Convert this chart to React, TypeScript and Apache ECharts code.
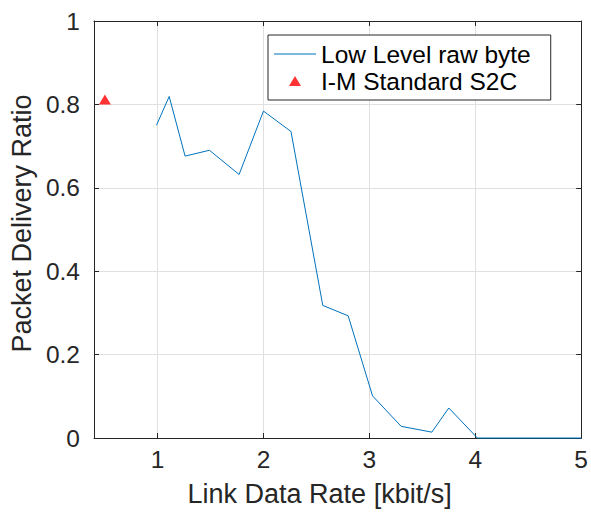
import React, { useEffect, useRef } from "react";
import * as echarts from "echarts";

const rateKbit = [0.99, 1.11, 1.26, 1.49, 1.77, 2.0, 2.26, 2.56, 2.8, 3.03, 3.3, 3.59, 3.75, 4.02, 4.5, 5.0];
const deliveryRatio = [0.75, 0.819, 0.676, 0.69, 0.632, 0.784, 0.735, 0.318, 0.293, 0.101, 0.028, 0.014, 0.072, 0.0, 0.0, 0.0];
const standardRate = [0.503];
const standardRatio = [0.812];
const xTicks = [1, 2, 3, 4, 5];
const seriesNames = ["Low Level raw byte", "I-M Standard S2C"];

const FONT = "Liberation Sans, Arial, Helvetica, sans-serif";
const AX = "#262626";
const GRID = "#e0e0e0";

export default function App() {
  const ref = useRef<HTMLDivElement>(null);
  useEffect(() => {
    if (!ref.current) return;
    const chart = echarts.init(ref.current, undefined, { renderer: "svg" });
    const lineData = rateKbit.map((x, i) => [x, deliveryRatio[i]]);
    const scatterData = standardRate.map((x, i) => [x, standardRatio[i]]);
    const baseX = {
      type: "value" as const,
      min: 0.4,
      max: 5,
      axisLine: { show: true, onZero: false, lineStyle: { color: AX, width: 1 } },
      axisTick: { show: true, inside: true, length: 5, lineStyle: { color: AX }, customValues: xTicks },
    };
    const baseY = {
      type: "value" as const,
      min: 0,
      max: 1,
      interval: 0.2,
      axisLine: { show: true, onZero: false, lineStyle: { color: AX, width: 1 } },
      axisTick: { show: true, inside: true, length: 5, lineStyle: { color: AX } },
    };
    chart.setOption({
      animation: false,
      textStyle: { fontFamily: FONT },
      grid: { left: 94, right: 5, top: 21, bottom: 72, containLabel: false },
      legend: {
        orient: "vertical",
        left: 268,
        top: 35,
        padding: [4.5, 20, 4.5, 6],
        itemWidth: 42,
        itemHeight: 10,
        itemGap: -2,
        symbolKeepAspect: true,
        borderColor: AX,
        borderWidth: 1,
        backgroundColor: "#ffffff",
        textStyle: { fontSize: 24.5, color: "#000000", fontFamily: FONT, lineHeight: 29 },
        data: [
          { name: seriesNames[0], icon: "path://M0,0H42V1H0Z", itemStyle: { color: "#0072BD" } },
          { name: seriesNames[1], icon: "path://M6,0L12,10L0,10Z" },
        ],
      },
      xAxis: [
        {
          ...baseX,
          position: "bottom",
          name: "Link Data Rate [kbit/s]",
          nameLocation: "middle",
          nameGap: 42,
          nameTextStyle: { fontSize: 27, color: AX, fontFamily: FONT, padding: [0, 36, 0, 0] },
          axisLabel: { show: true, fontSize: 24.5, color: AX, margin: 9, customValues: xTicks, fontFamily: FONT },
          splitLine: { show: true, lineStyle: { color: GRID, width: 1 } },
        },
        {
          ...baseX,
          position: "top",
          axisLabel: { show: false },
          splitLine: { show: false },
        },
      ],
      yAxis: [
        {
          ...baseY,
          position: "left",
          name: "Packet Delivery Ratio",
          nameLocation: "middle",
          nameGap: 56,
          nameTextStyle: { fontSize: 27, color: AX, fontFamily: FONT, padding: [0, 0, 0, 12] },
          axisLabel: { show: true, fontSize: 24.5, color: AX, margin: 14, fontFamily: FONT },
          splitLine: { show: true, lineStyle: { color: GRID, width: 1 } },
        },
        {
          ...baseY,
          position: "right",
          axisLabel: { show: false },
          splitLine: { show: false },
        },
      ],
      series: [
        {
          name: seriesNames[0],
          type: "line",
          data: lineData,
          symbol: "none",
          clip: false,
          lineStyle: { color: "#0072BD", width: 1 },
          itemStyle: { color: "#0072BD" },
          z: 3,
        },
        {
          name: seriesNames[1],
          type: "scatter",
          data: scatterData,
          symbol: "triangle",
          symbolSize: [12, 10],
          itemStyle: { color: "#ff0000" },
          z: 4,
        },
      ],
    });
    return () => chart.dispose();
  }, []);
  return <div ref={ref} style={{ width: 591, height: 512, position: "absolute", left: 0, top: 0 }} />;
}
